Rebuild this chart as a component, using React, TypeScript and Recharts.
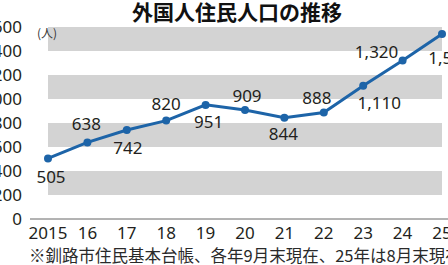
import { LineChart, Line, XAxis, YAxis, ReferenceArea, LabelList } from 'recharts'

const YEARS = ['2015', '16', '17', '18', '19', '20', '21', '22', '23', '24', '25']
const RESIDENTS = [505, 638, 742, 820, 951, 909, 844, 888, 1110, 1320, 1542]
const Y_TICKS = [0, 200, 400, 600, 800, 1000, 1200, 1400, 1600]

// where each value label sits relative to its point (text centre)
const LABEL_OFFSETS: [number, number][] = [
  [3, 18], [-1, -19], [1, 18], [0, -17], [3, 17], [2, -14],
  [-1, 16], [-7, -15], [16, 17], [-26, -9], [8, 24],
]

const BLUE = '#1d64a8'
const BAND = '#d3d3d3'
const INK = '#231f20'
const NUM_FONT = '"Noto Sans", sans-serif'
const JP_FONT = '"Noto Sans CJK JP", sans-serif'

const data = YEARS.map((year, i) => ({ year, value: RESIDENTS[i] }))

// gray stripes on every other 200 step: 200-400, 600-800 ...
const bands = Y_TICKS.slice(0, -1)
  .map((t, i) => ({ y1: t, y2: Y_TICKS[i + 1] }))
  .filter((_, i) => i % 2 === 1)

const fmt = (v: number) => v.toLocaleString('en-US')

const renderLabel = (props: any) => {
  const { index, value } = props
  const x = props.x ?? props.viewBox?.x
  const y = props.y ?? props.viewBox?.y
  const [dx, dy] = LABEL_OFFSETS[index] ?? [0, -16]
  return (
    <text
      x={x + dx}
      y={y + dy}
      textAnchor="middle"
      dominantBaseline="central"
      fontSize={17}
      fontFamily={NUM_FONT}
      fill={INK}
    >
      {fmt(value)}
    </text>
  )
}

export default function App() {
  return (
    <div style={{ position: 'absolute', left: 0, top: 0, width: 448, height: 265, overflow: 'hidden', background: '#fff' }}>
      <div style={{ position: 'absolute', left: -40, top: 0 }}>
        <LineChart width={510} height={265} data={data} margin={{ top: 27, right: 0, bottom: 16, left: 0 }}>
          {bands.map((b) => (
            <ReferenceArea key={b.y1} y1={b.y1} y2={b.y2} fill={BAND} fillOpacity={1} stroke="none" />
          ))}
          <XAxis
            dataKey="year"
            padding={{ left: 18, right: 28 }}
            axisLine={{ stroke: '#666', strokeWidth: 1 }}
            tickLine={false}
            height={30}
            tick={{ fill: INK, fontSize: 17, fontFamily: NUM_FONT }}
            interval={0}
          />
          <YAxis
            width={70}
            domain={[0, 1600]}
            ticks={Y_TICKS}
            axisLine={false}
            tickLine={false}
            tickFormatter={fmt}
            tick={{ fill: INK, fontSize: 17, fontFamily: NUM_FONT }}
            interval={0}
          />
          <Line
            type="linear"
            dataKey="value"
            stroke={BLUE}
            strokeWidth={3}
            dot={{ r: 4, fill: BLUE, stroke: BLUE, strokeWidth: 0 }}
            isAnimationActive={false}
          >
            <LabelList dataKey="value" content={renderLabel} />
          </Line>
        </LineChart>
      </div>
      <div
        style={{
          position: 'absolute', left: 0, top: 1, width: 474, textAlign: 'center',
          fontFamily: JP_FONT, fontWeight: 700, fontSize: 21, lineHeight: '21px', color: '#111',
        }}
      >
        外国人住民人口の推移
      </div>
      <div
        style={{
          position: 'absolute', left: 37, top: 26, fontFamily: JP_FONT, fontSize: 12,
          lineHeight: '14px', color: '#333',
        }}
      >
        (人)
      </div>
      <div
        style={{
          position: 'absolute', left: 29, top: 246, whiteSpace: 'nowrap', fontFamily: JP_FONT,
          fontSize: 16.5, lineHeight: '18px', color: '#2a2a2a',
        }}
      >
        ※釧路市住民基本台帳、各年9月末現在、25年は8月末現在
      </div>
    </div>
  )
}
